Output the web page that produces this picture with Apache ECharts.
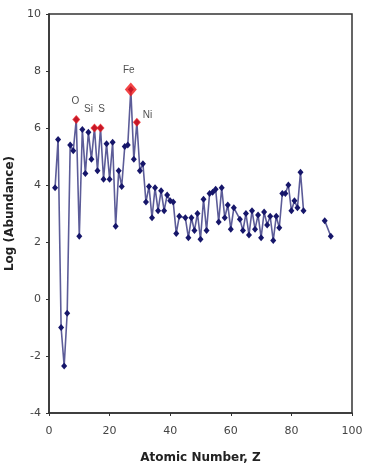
<!DOCTYPE html>
<html>
<head>
<meta charset="utf-8">
<script src="https://cdn.jsdelivr.net/npm/echarts@6/dist/echarts.min.js"></script>
<style>
html,body{margin:0;padding:0;background:#fff;}
#chart{width:373px;height:471px;}
</style>
</head>
<body>
<div id="chart"></div>
<script>
// Plotted atomic number positions (as drawn in the reference)
const atomicNumber = [2,3,4,5,6,7,8,9,10,11,12,13,14,15,16,17,18,19,20,21,22,23,24,25,26,27,28,29,30,
  31,32,33,34,35,36,37,38,39,40,41,42,43,45,46,47,48,49,50,51,52,53,54,55,56,57,58,59,60,61,
  63,64,65,66,67,68,69,70,71,72,73,74,75,76,77,78,79,80,81,82,83,84,91,93];
const logAbundance = [3.9,5.6,-1.0,-2.35,-0.5,5.4,5.2,6.3,2.2,5.95,4.4,5.85,4.9,6.0,4.5,6.0,4.2,5.45,4.2,5.5,2.55,4.5,3.95,5.35,5.4,7.35,4.9,6.2,4.5,
  4.75,3.4,3.95,2.85,3.9,3.1,3.8,3.1,3.65,3.45,3.4,2.3,2.9,2.85,2.15,2.85,2.4,3.0,2.1,3.5,2.4,3.7,3.75,3.85,2.7,3.9,2.85,3.3,2.45,3.2,
  2.8,2.4,3.0,2.25,3.1,2.45,2.95,2.15,3.05,2.6,2.9,2.05,2.9,2.5,3.7,3.7,4.0,3.1,3.45,3.2,4.45,3.1,2.75,2.2];

const highlightNames = ['O','Si','S','Fe','Ni'];
const highlightZ = [9,15,17,27,29];
const highlightValue = [6.3,6.0,6.0,7.35,6.2];

const xTicks = [0,20,40,60,80,100];
const yTicks = [-4,-2,0,2,4,6,8,10];

// build line data, breaking where the gap is large
const lineData = [];
for (let i = 0; i < atomicNumber.length; i++) {
  if (i > 0 && atomicNumber[i] - atomicNumber[i-1] > 3) {
    lineData.push([(atomicNumber[i] + atomicNumber[i-1]) / 2, '-']);
  }
  lineData.push([atomicNumber[i], logAbundance[i]]);
}

const labelPos = {
  O:  {position:'top', offset:[-1,-4]},
  Si: {position:'top', offset:[-6,-4]},
  S:  {position:'top', offset:[1,-4]},
  Fe: {position:'top', offset:[-2,-2]},
  Ni: {position:'right', offset:[-3,-7]}
};

const hiData = highlightNames.map((n, i) => ({
  name: n,
  value: [highlightZ[i], highlightValue[i]],
  symbolSize: n === 'Fe' ? [12,14] : [8,9],
  label: Object.assign({show:true, formatter:n}, labelPos[n])
}));

const chart = echarts.init(document.getElementById('chart'), null, {renderer:'canvas'});
chart.setOption({
  animation: false,
  backgroundColor: '#fff',
  grid: {left:49, right:21, top:14, bottom:58, containLabel:false, outerBoundsMode:'none',
    show:true, borderColor:'#333', borderWidth:1.5},
  xAxis: {
    type:'value', min:0, max:100, interval:20,
    name:'Atomic Number, Z', nameLocation:'middle', nameGap:39,
    nameTextStyle:{fontFamily:'DejaVu Sans', fontWeight:'bold', fontSize:12, color:'#222'},
    axisLine:{show:true, onZero:false, lineStyle:{color:'#333', width:1.5}},
    axisTick:{show:true, inside:false, length:3, lineStyle:{color:'#333'}},
    axisLabel:{fontFamily:'DejaVu Sans', fontSize:11, color:'#444', margin:13,
      formatter: v => xTicks.includes(v) ? String(v) : ''},
    splitLine:{show:false}
  },
  yAxis: {
    type:'value', min:-4, max:10, interval:2,
    name:'Log (Abundance)', nameLocation:'middle', nameGap:32, nameRotate:90,
    nameTextStyle:{fontFamily:'DejaVu Sans', fontWeight:'bold', fontSize:12, color:'#222'},
    axisLine:{show:true, onZero:false, lineStyle:{color:'#333', width:1.5}},
    axisTick:{show:true, inside:false, length:3, lineStyle:{color:'#333'}},
    axisLabel:{fontFamily:'DejaVu Sans', fontSize:11, color:'#444', margin:8,
      formatter: v => yTicks.includes(v) ? String(v) : ''},
    splitLine:{show:false}
  },
  series: [
    {
      type:'line', data: lineData, connectNulls:false,
      symbol:'diamond', symbolSize:[6,7], showAllSymbol:true,
      itemStyle:{color:'#16166a'},
      lineStyle:{color:'#5c5c98', width:1.6},
      z:2
    },
    {
      type:'scatter', data: hiData, symbol:'diamond',
      itemStyle:{color:'#f01818'},
      label:{fontFamily:'Liberation Sans', fontSize:10, color:'#222'},
      z:3
    }
  ]
});
</script>
</body>
</html>
